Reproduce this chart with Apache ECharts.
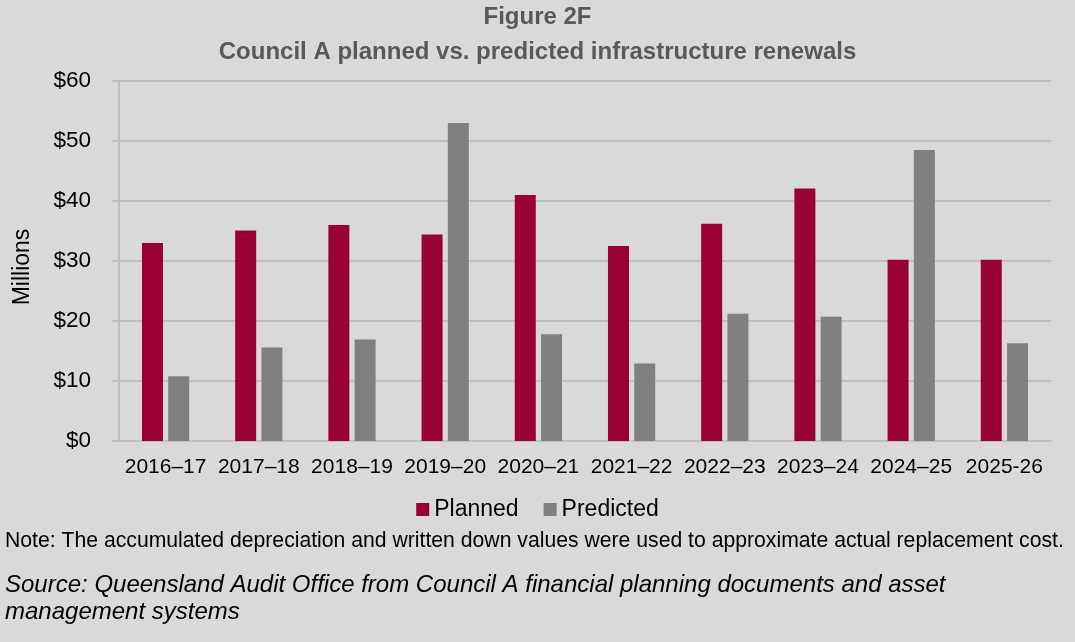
<!DOCTYPE html>
<html>
<head>
<meta charset="utf-8">
<title>Figure 2F</title>
<script src="https://cdn.jsdelivr.net/npm/echarts@6/dist/echarts.min.js"></script>
<style>
    html, body { margin: 0; padding: 0; background: #d9d9d9; }
    #chart { width: 1075px; height: 642px; }
</style>
</head>
<body>
<div id="chart"></div>
<script>
// Council A planned vs predicted renewals ($ millions)
const years = ['2016–17', '2017–18', '2018–19', '2019–20', '2020–21', '2021–22', '2022–23', '2023–24', '2024–25', '2025-26'];
const planned = [33.0, 35.1, 36.0, 34.4, 41.0, 32.5, 36.2, 42.1, 30.2, 30.2];
const predicted = [10.8, 15.6, 16.9, 53.0, 17.8, 12.9, 21.2, 20.7, 48.5, 16.3];

const font = '"Liberation Sans", Arial, sans-serif';
const titleColor = '#595959';
const textColor = '#000000';
const lineColor = '#bfbfbf';

const chart = echarts.init(document.getElementById('chart'));

chart.setOption({
    backgroundColor: '#d9d9d9',
    animation: false,
    textStyle: { fontFamily: font },
    title: [
        {
            text: 'Figure 2F\nCouncil A planned vs. predicted infrastructure renewals',
            left: 'center',
            top: 0,
            padding: 0,
            textStyle: { fontFamily: font, fontSize: 24, fontWeight: 'bold', color: titleColor, lineHeight: 35 }
        },
        {
            text: 'Note: The accumulated depreciation and written down values were used to approximate actual replacement cost.',
            left: 0,
            top: 526,
            textStyle: { fontFamily: font, fontSize: 21.2, fontWeight: 'normal', color: textColor }
        },
        {
            text: 'Source: Queensland Audit Office from Council A financial planning documents and asset\nmanagement systems',
            left: 0,
            top: 567,
            textStyle: { fontFamily: font, fontSize: 24, fontWeight: 'normal', fontStyle: 'italic', color: textColor, lineHeight: 27 }
        }
    ],
    legend: {
        data: ['Planned', 'Predicted'],
        left: 'center',
        top: 493,
        itemWidth: 13,
        itemHeight: 13,
        itemGap: 25,
        icon: 'rect',
        textStyle: { fontFamily: font, fontSize: 23, color: textColor }
    },
    grid: {
        left: 119,
        right: 24,
        top: 81,
        bottom: 201,
        containLabel: false
    },
    xAxis: {
        type: 'category',
        data: years,
        axisLine: { lineStyle: { color: lineColor, width: 2 } },
        axisTick: { show: false },
        axisLabel: { color: textColor, fontSize: 21, fontFamily: font, margin: 16, interval: 0 }
    },
    yAxis: {
        type: 'value',
        min: 0,
        max: 60,
        interval: 10,
        name: 'Millions',
        nameLocation: 'middle',
        nameGap: 85,
        nameRotate: 90,
        nameTextStyle: { color: textColor, fontSize: 23, fontFamily: font, padding: [0, 0, 0, -12] },
        axisLine: { show: true, lineStyle: { color: lineColor, width: 2 } },
        axisTick: { show: true, length: 7, lineStyle: { color: lineColor, width: 2 } },
        axisLabel: { color: textColor, fontSize: 22.5, fontFamily: font, margin: 28, formatter: '${value}' },
        splitLine: { lineStyle: { color: lineColor, width: 2 } }
    },
    series: [
        {
            name: 'Planned',
            type: 'bar',
            data: planned,
            barWidth: 21,
            barGap: '25%',
            itemStyle: { color: '#990033' }
        },
        {
            name: 'Predicted',
            type: 'bar',
            data: predicted,
            barWidth: 21,
            itemStyle: { color: '#808080' }
        }
    ]
});
</script>
</body>
</html>
